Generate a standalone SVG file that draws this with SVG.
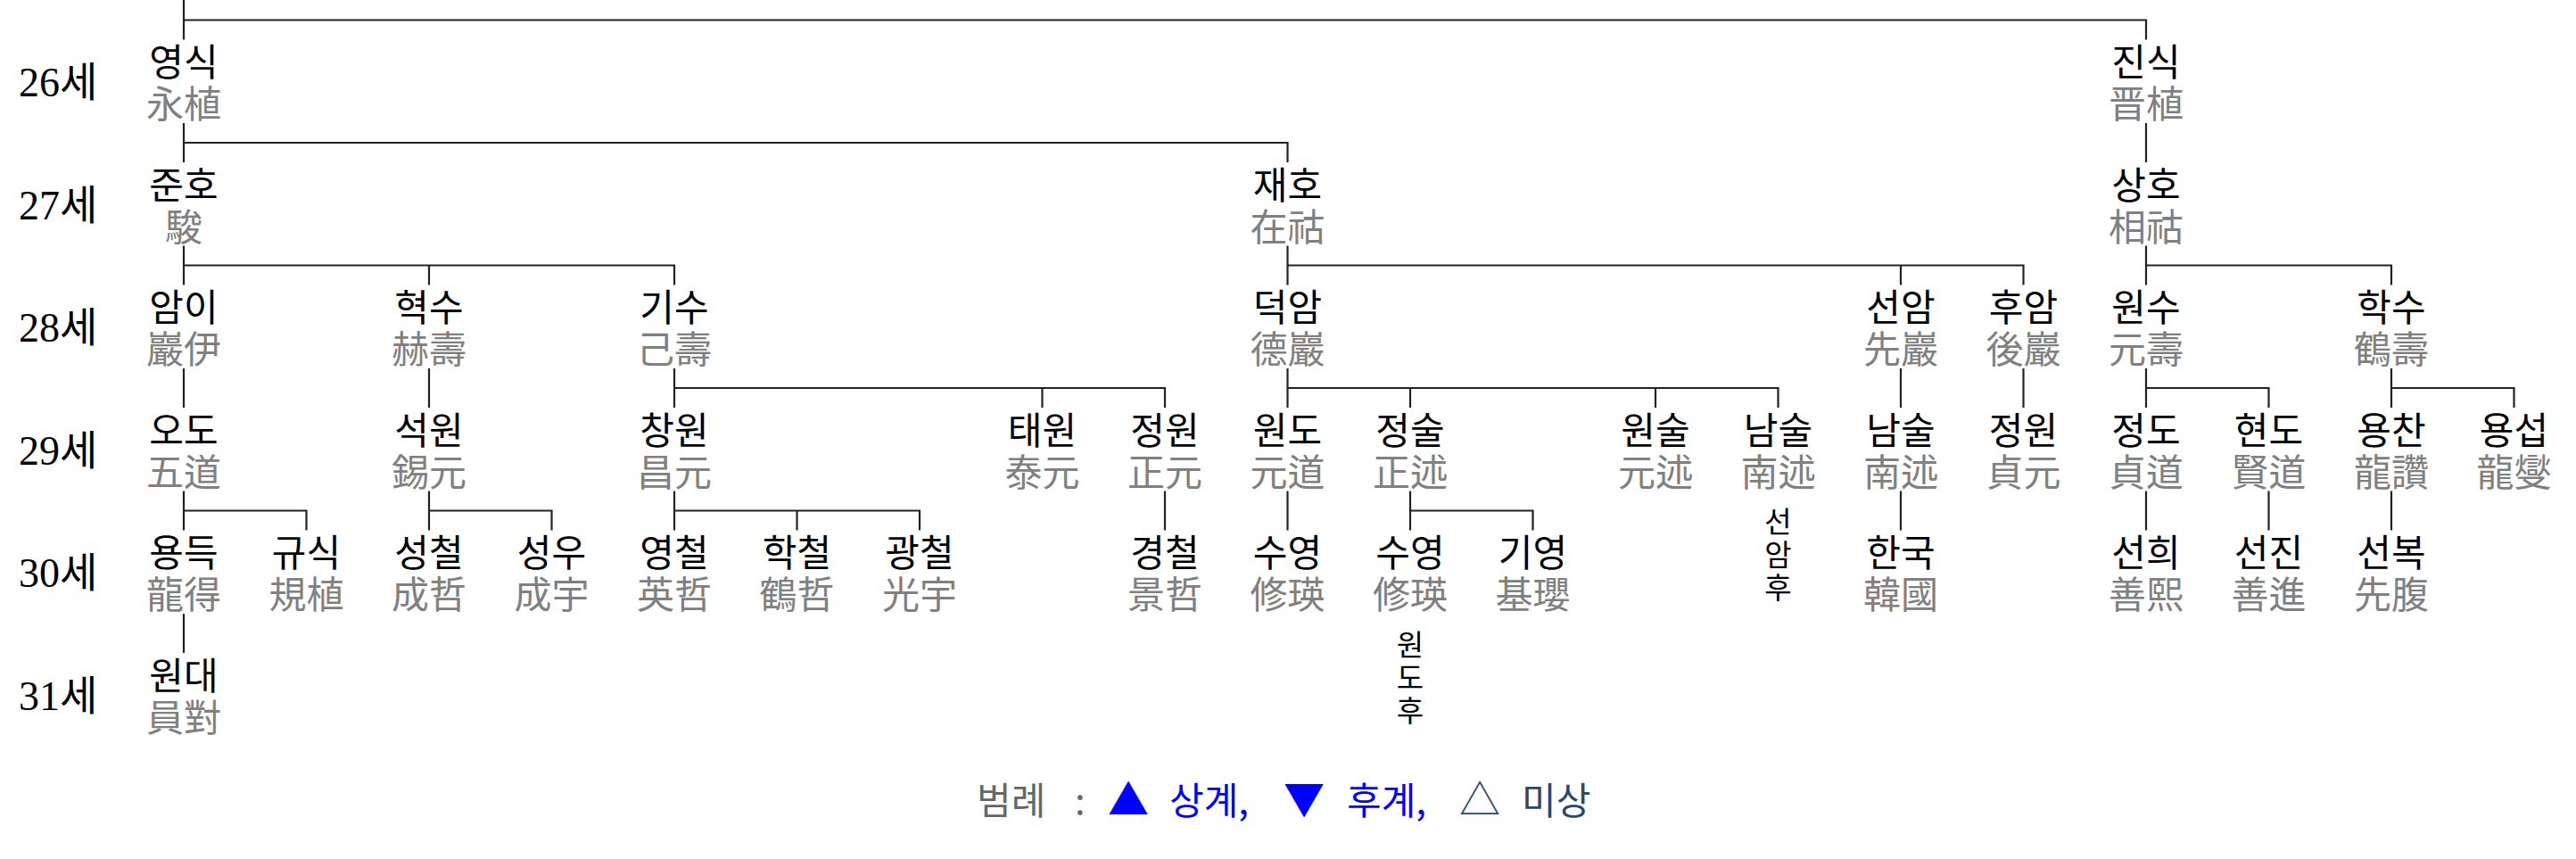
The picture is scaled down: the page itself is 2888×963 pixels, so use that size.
<svg xmlns="http://www.w3.org/2000/svg" width="2888" height="963" viewBox="0 0 2888 963">
<style>
.bg{fill:#ffffff}
.ln{fill:none;stroke:#222222;stroke-width:2.2}
.nd{font-family:"Liberation Serif","Noto Sans CJK KR",sans-serif;font-size:42px;text-anchor:middle}
.ko{fill:#000000}
.hj{fill:#808080}
.gen{font-family:"Liberation Serif","Noto Sans CJK KR",serif;font-size:46px;fill:#000000}
.vt{font-family:"Liberation Serif","Noto Sans CJK KR",sans-serif;font-size:33px;fill:#000000;text-anchor:middle}
.lg{font-family:"Noto Sans CJK KR",sans-serif;font-size:42px}
</style>
<rect class="bg" x="0" y="0" width="2888" height="963"/>

<g id="generations">
<text class="gen" x="21" y="108">26세</text>
<text class="gen" x="21" y="245.5">27세</text>
<text class="gen" x="21" y="383">28세</text>
<text class="gen" x="21" y="520.5">29세</text>
<text class="gen" x="21" y="658">30세</text>
<text class="gen" x="21" y="795.5">31세</text>
</g>

<g id="connectors">
<path class="ln" d="M206 0V44.5M206 22.5H2406V44.5"/>
<path class="ln" d="M206 138V182M206 160H1443.5V182M2406 138V182"/>
<path class="ln" d="M206 275.5V319.5M206 297.5H756V319.5M481 297.5V319.5"/>
<path class="ln" d="M1443.5 275.5V319.5M1443.5 297.5H2268.5V319.5M2131 297.5V319.5"/>
<path class="ln" d="M2406 275.5V319.5M2406 297.5H2681V319.5"/>
<path class="ln" d="M206 413V457M481 413V457"/>
<path class="ln" d="M756 413V457M756 435H1306V457M1168.5 435V457"/>
<path class="ln" d="M1443.5 413V457M1443.5 435H1993.5V457M1581 435V457M1856 435V457"/>
<path class="ln" d="M2131 413V457M2268.5 413V457"/>
<path class="ln" d="M2406 413V457M2406 435H2543.5V457"/>
<path class="ln" d="M2681 413V457M2681 435H2818.5V457"/>
<path class="ln" d="M206 550.5V594.5M206 572.5H343.5V594.5"/>
<path class="ln" d="M481 550.5V594.5M481 572.5H618.5V594.5"/>
<path class="ln" d="M756 550.5V594.5M756 572.5H1031V594.5M893.5 572.5V594.5"/>
<path class="ln" d="M1306 550.5V594.5M1443.5 550.5V594.5"/>
<path class="ln" d="M1581 550.5V594.5M1581 572.5H1718.5V594.5"/>
<path class="ln" d="M2131 550.5V594.5M2406 550.5V594.5M2543.5 550.5V594.5M2681 550.5V594.5"/>
<path class="ln" d="M206 688V732"/>
</g>

<g id="n-yeongsik"><text class="nd" x="206" y="85"><tspan class="ko">영식</tspan><tspan class="hj" x="206" dy="47">永植</tspan></text></g>
<g id="n-jinsik"><text class="nd" x="2406" y="85"><tspan class="ko">진식</tspan><tspan class="hj" x="2406" dy="47">晋植</tspan></text></g>

<g id="n-junho"><text class="nd" x="206" y="222.5"><tspan class="ko">준호</tspan><tspan class="hj" x="206" dy="47">駿</tspan></text></g>
<g id="n-jaeho"><text class="nd" x="1443.5" y="222.5"><tspan class="ko">재호</tspan><tspan class="hj" x="1443.5" dy="47">在祜</tspan></text></g>
<g id="n-sangho"><text class="nd" x="2406" y="222.5"><tspan class="ko">상호</tspan><tspan class="hj" x="2406" dy="47">相祜</tspan></text></g>

<g id="n-ami"><text class="nd" x="206" y="360"><tspan class="ko">암이</tspan><tspan class="hj" x="206" dy="47">巖伊</tspan></text></g>
<g id="n-hyeoksu"><text class="nd" x="481" y="360"><tspan class="ko">혁수</tspan><tspan class="hj" x="481" dy="47">赫壽</tspan></text></g>
<g id="n-gisu"><text class="nd" x="756" y="360"><tspan class="ko">기수</tspan><tspan class="hj" x="756" dy="47">己壽</tspan></text></g>
<g id="n-deogam"><text class="nd" x="1443.5" y="360"><tspan class="ko">덕암</tspan><tspan class="hj" x="1443.5" dy="47">德巖</tspan></text></g>
<g id="n-seonam"><text class="nd" x="2131" y="360"><tspan class="ko">선암</tspan><tspan class="hj" x="2131" dy="47">先巖</tspan></text></g>
<g id="n-huam"><text class="nd" x="2268.5" y="360"><tspan class="ko">후암</tspan><tspan class="hj" x="2268.5" dy="47">後巖</tspan></text></g>
<g id="n-wonsu"><text class="nd" x="2406" y="360"><tspan class="ko">원수</tspan><tspan class="hj" x="2406" dy="47">元壽</tspan></text></g>
<g id="n-haksu"><text class="nd" x="2681" y="360"><tspan class="ko">학수</tspan><tspan class="hj" x="2681" dy="47">鶴壽</tspan></text></g>

<g id="n-odo"><text class="nd" x="206" y="497.5"><tspan class="ko">오도</tspan><tspan class="hj" x="206" dy="47">五道</tspan></text></g>
<g id="n-seogwon"><text class="nd" x="481" y="497.5"><tspan class="ko">석원</tspan><tspan class="hj" x="481" dy="47">錫元</tspan></text></g>
<g id="n-changwon"><text class="nd" x="756" y="497.5"><tspan class="ko">창원</tspan><tspan class="hj" x="756" dy="47">昌元</tspan></text></g>
<g id="n-taewon"><text class="nd" x="1168.5" y="497.5"><tspan class="ko">태원</tspan><tspan class="hj" x="1168.5" dy="47">泰元</tspan></text></g>
<g id="n-jeongwon1"><text class="nd" x="1306" y="497.5"><tspan class="ko">정원</tspan><tspan class="hj" x="1306" dy="47">正元</tspan></text></g>
<g id="n-wondo"><text class="nd" x="1443.5" y="497.5"><tspan class="ko">원도</tspan><tspan class="hj" x="1443.5" dy="47">元道</tspan></text></g>
<g id="n-jeongsul"><text class="nd" x="1581" y="497.5"><tspan class="ko">정술</tspan><tspan class="hj" x="1581" dy="47">正述</tspan></text></g>
<g id="n-wonsul"><text class="nd" x="1856" y="497.5"><tspan class="ko">원술</tspan><tspan class="hj" x="1856" dy="47">元述</tspan></text></g>
<g id="n-namsul1"><text class="nd" x="1993.5" y="497.5"><tspan class="ko">남술</tspan><tspan class="hj" x="1993.5" dy="47">南述</tspan></text></g>
<g id="n-namsul2"><text class="nd" x="2131" y="497.5"><tspan class="ko">남술</tspan><tspan class="hj" x="2131" dy="47">南述</tspan></text></g>
<g id="n-jeongwon2"><text class="nd" x="2268.5" y="497.5"><tspan class="ko">정원</tspan><tspan class="hj" x="2268.5" dy="47">貞元</tspan></text></g>
<g id="n-jeongdo"><text class="nd" x="2406" y="497.5"><tspan class="ko">정도</tspan><tspan class="hj" x="2406" dy="47">貞道</tspan></text></g>
<g id="n-hyeondo"><text class="nd" x="2543.5" y="497.5"><tspan class="ko">현도</tspan><tspan class="hj" x="2543.5" dy="47">賢道</tspan></text></g>
<g id="n-yongchan"><text class="nd" x="2681" y="497.5"><tspan class="ko">용찬</tspan><tspan class="hj" x="2681" dy="47">龍讚</tspan></text></g>
<g id="n-yongseop"><text class="nd" x="2818.5" y="497.5"><tspan class="ko">용섭</tspan><tspan class="hj" x="2818.5" dy="47">龍燮</tspan></text></g>

<g id="n-yongdeuk"><text class="nd" x="206" y="635"><tspan class="ko">용득</tspan><tspan class="hj" x="206" dy="47">龍得</tspan></text></g>
<g id="n-gyusik"><text class="nd" x="343.5" y="635"><tspan class="ko">규식</tspan><tspan class="hj" x="343.5" dy="47">規植</tspan></text></g>
<g id="n-seongcheol"><text class="nd" x="481" y="635"><tspan class="ko">성철</tspan><tspan class="hj" x="481" dy="47">成哲</tspan></text></g>
<g id="n-seongu"><text class="nd" x="618.5" y="635"><tspan class="ko">성우</tspan><tspan class="hj" x="618.5" dy="47">成宇</tspan></text></g>
<g id="n-yeongcheol"><text class="nd" x="756" y="635"><tspan class="ko">영철</tspan><tspan class="hj" x="756" dy="47">英哲</tspan></text></g>
<g id="n-hakcheol"><text class="nd" x="893.5" y="635"><tspan class="ko">학철</tspan><tspan class="hj" x="893.5" dy="47">鶴哲</tspan></text></g>
<g id="n-gwangcheol"><text class="nd" x="1031" y="635"><tspan class="ko">광철</tspan><tspan class="hj" x="1031" dy="47">光宇</tspan></text></g>
<g id="n-gyeongcheol"><text class="nd" x="1306" y="635"><tspan class="ko">경철</tspan><tspan class="hj" x="1306" dy="47">景哲</tspan></text></g>
<g id="n-suyeong1"><text class="nd" x="1443.5" y="635"><tspan class="ko">수영</tspan><tspan class="hj" x="1443.5" dy="47">修瑛</tspan></text></g>
<g id="n-suyeong2"><text class="nd" x="1581" y="635"><tspan class="ko">수영</tspan><tspan class="hj" x="1581" dy="47">修瑛</tspan></text></g>
<g id="n-giyeong"><text class="nd" x="1718.5" y="635"><tspan class="ko">기영</tspan><tspan class="hj" x="1718.5" dy="47">基瓔</tspan></text></g>
<g id="n-seonamhu"><text class="vt" x="1993.5" y="597">선<tspan x="1993.5" dy="37">암</tspan><tspan x="1993.5" dy="37">후</tspan></text></g>
<g id="n-hanguk"><text class="nd" x="2131" y="635"><tspan class="ko">한국</tspan><tspan class="hj" x="2131" dy="47">韓國</tspan></text></g>
<g id="n-seonhui"><text class="nd" x="2406" y="635"><tspan class="ko">선희</tspan><tspan class="hj" x="2406" dy="47">善熙</tspan></text></g>
<g id="n-seonjin"><text class="nd" x="2543.5" y="635"><tspan class="ko">선진</tspan><tspan class="hj" x="2543.5" dy="47">善進</tspan></text></g>
<g id="n-seonbok"><text class="nd" x="2681" y="635"><tspan class="ko">선복</tspan><tspan class="hj" x="2681" dy="47">先腹</tspan></text></g>

<g id="n-wondae"><text class="nd" x="206" y="772.5"><tspan class="ko">원대</tspan><tspan class="hj" x="206" dy="47">員對</tspan></text></g>
<g id="n-wondohu"><text class="vt" x="1581" y="735">원<tspan x="1581" dy="37">도</tspan><tspan x="1581" dy="37">후</tspan></text></g>

<g id="legend">
<text class="lg" y="913"><tspan x="1095" fill="#666666">범례</tspan><tspan x="1205" fill="#666666">:</tspan><tspan x="1242" fill="#0000ff" font-size="46px">▲</tspan><tspan x="1311" fill="#0000ff">상계,</tspan><tspan x="1439" fill="#0000ff" font-size="46px">▼</tspan><tspan x="1510" fill="#0000ff">후계,</tspan><tspan x="1636" fill="#2c4866" font-size="46px">△</tspan><tspan x="1706" fill="#2c4866">미상</tspan></text>
</g>
</svg>
